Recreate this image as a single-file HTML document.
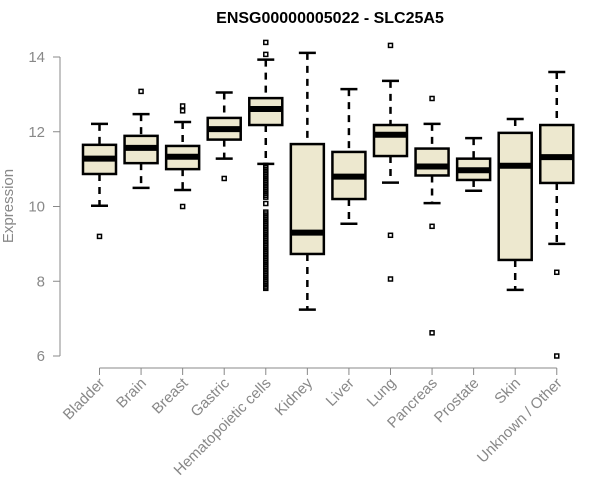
<!DOCTYPE html>
<html><head><meta charset="utf-8"><style>
body{margin:0;background:#fff;}
svg{display:block;font-family:"Liberation Sans",Arial,sans-serif;}
</style></head><body>
<svg id="chart" width="600" height="500" viewBox="0 0 600 500">
<text x="330" y="23" text-anchor="middle" font-weight="bold" font-size="16" fill="#000">ENSG00000005022 - SLC25A5</text>
<text transform="translate(13,206) rotate(-90)" text-anchor="middle" font-size="15" fill="#888">Expression</text>
<g id="yaxis"></g>
<g id="xaxis"></g>
<g id="boxes"></g>
</svg>
<script>
const categories=["Bladder","Brain","Breast","Gastric","Hematopoietic cells","Kidney","Liver","Lung","Pancreas","Prostate","Skin","Unknown / Other"];
const whiskerLow=[10.02,10.5,10.44,11.28,11.14,7.24,9.54,10.64,10.09,10.42,7.77,9.0];
const q1=[10.87,11.16,11.0,11.79,12.18,8.73,10.2,11.35,10.83,10.71,8.57,10.63];
const medians=[11.28,11.57,11.33,12.07,12.61,9.3,10.8,11.92,11.07,10.97,11.09,11.32];
const q3=[11.65,11.89,11.62,12.37,12.9,11.67,11.46,12.18,11.55,11.28,11.97,12.18];
const whiskerHigh=[12.21,12.47,12.26,13.05,13.93,14.11,13.14,13.36,12.21,11.83,12.34,13.6];
const outliers=[[9.2],[13.08],[12.69,12.56,10.0],[10.75],
[14.39,14.07,11.1,11.05,11.0,10.95,10.9,10.85,10.8,10.75,10.7,10.65,10.6,10.55,10.5,10.45,10.4,10.35,10.3,10.25,10.08,9.85,9.8,9.75,9.7,9.65,9.6,9.55,9.5,9.45,9.4,9.35,9.3,9.25,9.2,9.15,9.1,9.05,9.0,8.95,8.9,8.85,8.8,8.75,8.7,8.65,8.6,8.55,8.5,8.45,8.4,8.35,8.3,8.25,8.2,8.15,8.1,8.05,8.0,7.95,7.9,7.85,7.81],
[],[],[14.31,9.23,8.06],[12.89,9.47,6.62],[],[],[8.24,6.0]];
const yTicks=[6,8,10,12,14];

const NS="http://www.w3.org/2000/svg";
const y=v=>356-(v-6)*37.375;
const x=i=>99.5+i*41.57;
function mk(tag,attrs,parent){const e=document.createElementNS(NS,tag);for(const k in attrs)e.setAttribute(k,attrs[k]);parent.appendChild(e);return e;}
const ya=document.getElementById('yaxis'),xa=document.getElementById('xaxis'),bx=document.getElementById('boxes');
mk('line',{x1:60,x2:60,y1:y(14),y2:y(6),stroke:'#888','stroke-width':1},ya);
yTicks.forEach(t=>{
  mk('line',{x1:53,x2:60,y1:y(t),y2:y(t),stroke:'#888'},ya);
  const tx=mk('text',{x:45,y:y(t)+5,'text-anchor':'end','font-size':15,fill:'#888'},ya);
  tx.textContent=t;
  
  
});
mk('line',{x1:x(0),x2:x(11),y1:368,y2:368,stroke:'#888'},xa);
categories.forEach((c,i)=>{
  mk('line',{x1:x(i),x2:x(i),y1:368,y2:375,stroke:'#888'},xa);
  const tx=mk('text',{transform:`translate(${x(i)+6},384) rotate(-45)`,'text-anchor':'end','font-size':15,fill:'#888'},xa);
  tx.textContent=c;
  
  
  const g=mk('g',{},bx);
  
  
  const cx=x(i),hw=16.5,cw=8.5;
  mk('line',{x1:cx,x2:cx,y1:y(whiskerHigh[i]),y2:y(q3[i]),stroke:'#000','stroke-width':2.5,'stroke-dasharray':'7,6'},g);
  mk('line',{x1:cx,x2:cx,y1:y(q1[i]),y2:y(whiskerLow[i]),stroke:'#000','stroke-width':2.5,'stroke-dasharray':'7,6'},g);
  mk('line',{x1:cx-cw,x2:cx+cw,y1:y(whiskerHigh[i]),y2:y(whiskerHigh[i]),stroke:'#000','stroke-width':2.5},g);
  mk('line',{x1:cx-cw,x2:cx+cw,y1:y(whiskerLow[i]),y2:y(whiskerLow[i]),stroke:'#000','stroke-width':2.5},g);
  mk('rect',{x:cx-hw,y:y(q3[i]),width:2*hw,height:y(q1[i])-y(q3[i]),fill:'#ede8cf',stroke:'#000','stroke-width':2.5},g);
  mk('line',{x1:cx-hw,x2:cx+hw,y1:y(medians[i]),y2:y(medians[i]),stroke:'#000','stroke-width':6},g);
  outliers[i].forEach(v=>{
    const p=mk('rect',{x:cx-2,y:y(v)-2,width:4,height:4,fill:'none',stroke:'#000','stroke-width':1.5},g);
    
    
  });
});
</script>
</body></html>
